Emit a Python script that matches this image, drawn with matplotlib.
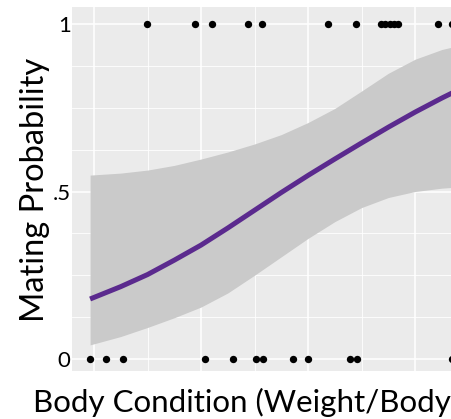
import numpy as np
import matplotlib.pyplot as plt

# puntos observados (apareamiento 0 / 1)
x_cero = [-0.037, 0.109, 0.271, 1.037, 1.302, 1.514, 1.582, 1.862, 2.003, 2.393, 2.455, 3.346]
x_uno = [0.493, 0.944, 1.100, 1.442, 1.567, 2.190, 2.449, 2.682, 2.720, 2.762, 2.804, 2.841, 3.215, 3.346]

# curva ajustada y banda de confianza
curva_x = [-0.037, 0.25, 0.5, 0.75, 1.0, 1.25, 1.5, 1.75, 2.0, 2.25, 2.5, 2.75, 3.0, 3.25, 3.383]
curva_y = [0.179, 0.216, 0.252, 0.295, 0.340, 0.391, 0.444, 0.497, 0.548, 0.597, 0.645, 0.692, 0.737, 0.779, 0.800]
banda_sup = [0.549, 0.555, 0.564, 0.578, 0.597, 0.618, 0.642, 0.670, 0.706, 0.748, 0.800, 0.853, 0.895, 0.924, 0.934]
banda_inf = [0.042, 0.067, 0.094, 0.123, 0.155, 0.197, 0.250, 0.305, 0.360, 0.410, 0.452, 0.482, 0.500, 0.510, 0.513]

y_ticks = [0, 0.5, 1]
y_labels = ["0", ".5", "1"]

fuente = "Lato"

fig = plt.figure(figsize=(4.51, 4.19), dpi=100)
ax = fig.add_axes([72 / 451, 48 / 419, 379 / 451, 364 / 419])
ax.set_facecolor("#EBEBEB")

ax.fill_between(curva_x, banda_inf, banda_sup, color="#CACACA", lw=0, zorder=2)
ax.plot(curva_x, curva_y, color="#5B2A8E", lw=3.6, solid_capstyle="butt", zorder=3)

ax.scatter(x_cero, np.zeros(len(x_cero)), s=28, color="black", zorder=4, lw=0)
ax.scatter(x_uno, np.ones(len(x_uno)), s=28, color="black", zorder=4, lw=0)

ax.set_xlim(-0.206, 3.336)
ax.set_ylim(-0.036, 1.051)

# rejilla
ax.set_xticks([0, 1, 2, 3])
ax.set_xticks([0.5, 1.5, 2.5], minor=True)
ax.set_yticks(y_ticks)
ax.set_yticks([0.125, 0.25, 0.375, 0.625, 0.75, 0.875], minor=True)
ax.grid(which="major", color="white", lw=1.1, zorder=1)
ax.grid(which="minor", color="white", lw=0.6, zorder=1)
ax.set_axisbelow(True)
ax.tick_params(which="both", length=0)
ax.set_xticklabels([])
ax.set_yticklabels(y_labels, fontsize=16, family=fuente)
ax.tick_params(axis="y", pad=1)
for s in ax.spines.values():
    s.set_visible(False)

fig.text(33 / 451, 7 / 419, "Body Condition (Weight/Body", fontsize=22.5,
         family=fuente, ha="left", va="baseline")
fig.text(35 / 451, 1 - 190 / 419, "Mating Probability", fontsize=23.5,
         family=fuente, rotation=90, ha="center", va="center")

fig.savefig("out.png", dpi=100)
